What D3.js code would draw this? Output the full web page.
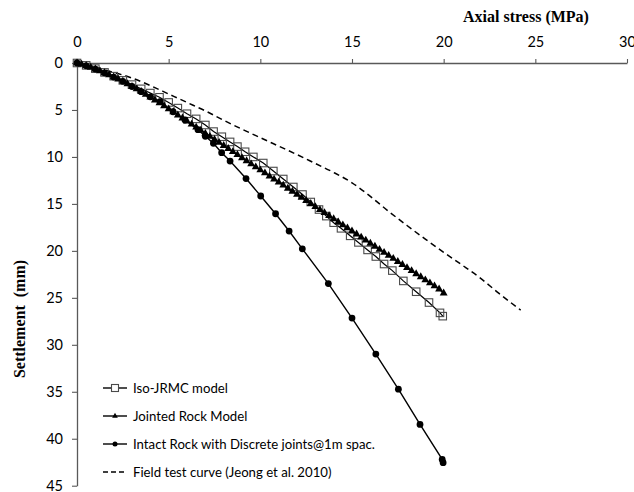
<!DOCTYPE html>
<html>
<head>
<meta charset="utf-8">
<script src="https://cdn.jsdelivr.net/npm/d3@7"></script>
<style>
  body { margin: 0; background: #fff; }
  text { font-family: Lato, "Open Sans", sans-serif; fill: #000; }
  .title { font-family: "Liberation Serif", "Times New Roman", serif; font-weight: bold; }
</style>
</head>
<body>
<div id="chart"></div>
<script>
// Iso-JRMC model (open squares)
const isoStress = [0, 0.5, 1, 1.5, 2, 2.5, 3, 3.5, 4, 4.5, 5, 5.5, 6, 6.5, 7, 7.45, 7.9, 8.35, 8.75, 9.17, 9.62, 10.16, 10.71, 11.25, 11.8, 12.3, 12.75, 13.2, 13.6, 14.0, 14.4, 14.9, 15.35, 15.85, 16.3, 16.75, 17.2, 17.8, 18.5, 19.2, 19.8, 19.95];
const isoSettle = [0, 0.25, 0.6, 1.0, 1.4, 1.85, 2.3, 2.75, 3.2, 3.65, 4.2, 4.8, 5.4, 5.95, 6.6, 7.3, 7.85, 8.4, 8.9, 9.45, 10.0, 10.65, 11.5, 12.35, 13.2, 14.0, 14.8, 15.6, 16.3, 17.0, 17.6, 18.4, 19.1, 19.9, 20.6, 21.4, 22.1, 23.2, 24.35, 25.5, 26.6, 26.95];

// Jointed Rock Model (filled triangles)
const jrmStress = [0, 0.25, 0.5, 0.75, 1, 1.25, 1.5, 1.75, 2, 2.25, 2.5, 2.75, 3, 3.25, 3.5, 3.75, 4, 4.25, 4.5, 4.75, 5, 5.25, 5.5, 5.75, 6, 6.25, 6.5, 6.75, 7, 7.25, 7.5, 7.75, 8, 8.25, 8.5, 8.75, 9, 9.25, 9.5, 9.75, 10, 10.25, 10.5, 10.75, 11, 11.25, 11.5, 11.75, 12, 12.25, 12.5, 12.75, 13, 13.25, 13.5, 13.75, 14, 14.25, 14.5, 14.75, 15, 15.25, 15.5, 15.75, 16, 16.25, 16.5, 16.75, 17, 17.25, 17.5, 17.75, 18, 18.25, 18.5, 18.75, 19, 19.25, 19.5, 19.75, 20];
const jrmSettle = [0, 0.15, 0.3, 0.47, 0.65, 0.85, 1.05, 1.27, 1.5, 1.72, 1.95, 2.22, 2.5, 2.77, 3.05, 3.35, 3.65, 3.95, 4.25, 4.57, 4.9, 5.22, 5.55, 5.87, 6.2, 6.52, 6.85, 7.17, 7.5, 7.82, 8.15, 8.47, 8.8, 9.12, 9.45, 9.77, 10.1, 10.42, 10.75, 11.07, 11.4, 11.72, 12.05, 12.37, 12.7, 13.02, 13.35, 13.67, 14.0, 14.32, 14.65, 14.97, 15.3, 15.62, 15.95, 16.27, 16.6, 16.92, 17.25, 17.57, 17.9, 18.22, 18.55, 18.87, 19.2, 19.52, 19.85, 20.17, 20.5, 20.82, 21.15, 21.47, 21.8, 22.12, 22.45, 22.77, 23.1, 23.42, 23.75, 24.07, 24.5];

// Intact Rock with Discrete joints (filled circles)
const intStress = [0, 0.5, 1, 1.5, 2, 2.5, 3, 3.5, 4, 4.53, 5.24, 5.89, 6.6, 7.0, 7.44, 7.89, 8.35, 9.22, 10.02, 10.83, 11.57, 12.29, 13.71, 15.0, 16.3, 17.53, 18.71, 19.92, 19.97];
const intSettle = [0, 0.3, 0.65, 1.05, 1.5, 1.95, 2.5, 3.05, 3.6, 4.12, 5.19, 6.07, 7.1, 7.8, 8.55, 9.55, 10.44, 12.3, 14.16, 16.05, 17.89, 19.78, 23.48, 27.16, 30.99, 34.72, 38.48, 42.2, 42.55];

// Field test curve (dashed)
const fieldStress = [0, 1, 2, 3, 4, 5, 6, 7, 8, 9, 10, 11, 12, 13, 14, 15, 16, 17, 18, 19, 20, 21, 22, 23, 24.2];
const fieldSettle = [0, 0.45, 1.0, 1.6, 2.4, 3.3, 4.2, 5.1, 6.1, 7.05, 7.95, 8.85, 9.75, 10.7, 11.65, 12.75, 14.2, 15.8, 17.3, 18.75, 20.15, 21.5, 22.9, 24.5, 26.3];

const xTicks = [0, 5, 10, 15, 20, 25, 30];
const yTicks = [0, 5, 10, 15, 20, 25, 30, 35, 40, 45];
const legendLabels = ["Iso-JRMC model", "Jointed Rock Model", "Intact Rock with Discrete joints@1m spac.", "Field test curve (Jeong et al. 2010)"];

const width = 634, height = 492;
const svg = d3.select("#chart").append("svg")
    .attr("width", width)
    .attr("height", height);

const x = d3.scaleLinear().domain([0, 30]).range([77, 627]);
const y = d3.scaleLinear().domain([0, 45]).range([63, 485.7]);

const axisColor = "#595959";

const xAxis = svg.append("g")
    .attr("transform", `translate(0,${y(0)})`)
    .call(d3.axisTop(x).tickValues(xTicks).tickSize(4).tickPadding(12).tickSizeOuter(0));
const yAxis = svg.append("g")
    .attr("transform", `translate(${x(0)},0)`)
    .call(d3.axisLeft(y).tickValues(yTicks).tickSize(5).tickPadding(9).tickSizeOuter(0));

[xAxis, yAxis].forEach(g => {
    g.select(".domain").attr("stroke", axisColor).attr("stroke-width", 1.3);
    g.selectAll(".tick line").attr("stroke", axisColor).attr("stroke-width", 1.1);
    g.selectAll(".tick text").attr("font-size", 14.5).attr("fill", "#000")
        .style("font-family", "Lato, 'Open Sans', sans-serif");
});

svg.append("text")
    .attr("class", "title")
    .attr("x", 526).attr("y", 22)
    .attr("text-anchor", "middle")
    .attr("font-size", 16)
    .text("Axial stress (MPa)");

svg.append("text")
    .attr("class", "title")
    .attr("transform", "translate(25,319) rotate(-90)")
    .attr("text-anchor", "middle")
    .attr("font-size", 16)
    .attr("xml:space", "preserve")
    .style("white-space", "pre")
    .text("Settlement  (mm)");

const line = d3.line().x(d => x(d[0])).y(d => y(d[1]));
const zip = (a, b) => a.map((v, i) => [v, b[i]]);

const isoData = zip(isoStress, isoSettle);
const jrmData = zip(jrmStress, jrmSettle);
const intData = zip(intStress, intSettle);
const fieldData = zip(fieldStress, fieldSettle);

svg.append("path").datum(fieldData)
    .attr("fill", "none").attr("stroke", "#000").attr("stroke-width", 1.5)
    .attr("stroke-dasharray", "6,4")
    .attr("d", line.curve(d3.curveMonotoneX));

line.curve(d3.curveLinear);

svg.append("path").datum(intData)
    .attr("fill", "none").attr("stroke", "#000").attr("stroke-width", 1.4)
    .attr("d", line);
svg.append("path").datum(isoData)
    .attr("fill", "none").attr("stroke", "#000").attr("stroke-width", 1.2)
    .attr("d", line);
svg.append("path").datum(jrmData)
    .attr("fill", "none").attr("stroke", "#000").attr("stroke-width", 1.4)
    .attr("d", line);

const sq = 7.5;
svg.selectAll(".iso").data(isoData).enter().append("rect")
    .attr("class", "iso")
    .attr("x", d => x(d[0]) - sq / 2).attr("y", d => y(d[1]) - sq / 2)
    .attr("width", sq).attr("height", sq)
    .attr("fill", "none").attr("stroke", "#4a4a4a").attr("stroke-width", 1.1);

const tri = d3.symbol().type(d3.symbolTriangle).size(27);
svg.selectAll(".jrm").data(jrmData).enter().append("path")
    .attr("class", "jrm")
    .attr("transform", d => `translate(${x(d[0])},${y(d[1])})`)
    .attr("d", tri).attr("fill", "#000");

svg.selectAll(".int").data(intData).enter().append("circle")
    .attr("class", "int")
    .attr("cx", d => x(d[0])).attr("cy", d => y(d[1]))
    .attr("r", 3.4).attr("fill", "#000");

// legend
const lg = svg.append("g");
const rows = [388, 416, 444, 472];
legendLabels.forEach((label, i) => {
    const ly = rows[i];
    const l = lg.append("line")
        .attr("x1", 103).attr("x2", 127).attr("y1", ly).attr("y2", ly)
        .attr("stroke", "#000").attr("stroke-width", 1.4);
    if (i === 3) l.attr("stroke-dasharray", "5,3");
    if (i === 0) lg.append("rect").attr("x", 111.5).attr("y", ly - 3.5).attr("width", 7).attr("height", 7)
        .attr("fill", "#fff").attr("stroke", "#4a4a4a").attr("stroke-width", 1.1);
    if (i === 1) lg.append("path").attr("transform", `translate(115,${ly})`)
        .attr("d", d3.symbol().type(d3.symbolTriangle).size(14)).attr("fill", "#000");
    if (i === 2) lg.append("circle").attr("cx", 115).attr("cy", ly).attr("r", 2.5).attr("fill", "#000");
    lg.append("text")
        .attr("x", 133).attr("y", ly + 4.5)
        .attr("font-size", 13.2)
        .text(label);
});
</script>
</body>
</html>
